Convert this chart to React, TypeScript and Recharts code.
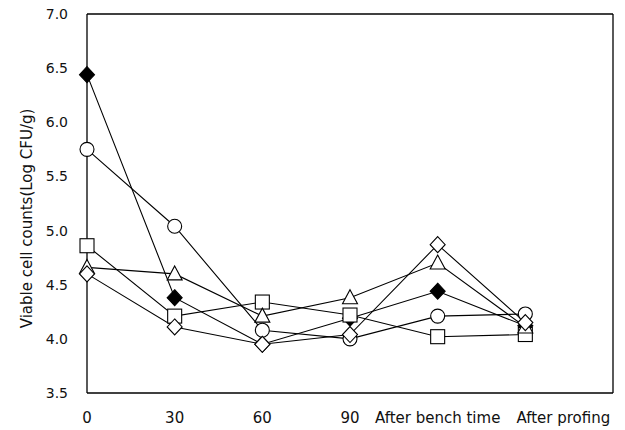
import React from "react";
import { LineChart, Line, XAxis, YAxis, ReferenceLine } from "recharts";

const categories = ["0", "30", "60", "90", "After bench time", "After profing"];
const filledDiamond = [6.44, 4.38, 3.95, 4.19, 4.44, 4.12];
const circle = [5.75, 5.04, 4.08, 4.0, 4.21, 4.23];
const square = [4.86, 4.21, 4.34, 4.22, 4.02, 4.04];
const triangle = [4.66, 4.6, 4.21, 4.38, 4.7, 4.11];
const diamond = [4.6, 4.11, 3.95, 4.04, 4.87, 4.15];
const yTicks = [3.5, 4.0, 4.5, 5.0, 5.5, 6.0, 6.5, 7.0];

const data = categories.map((label, i) => ({
  x: i,
  label,
  fd: filledDiamond[i],
  ci: circle[i],
  sq: square[i],
  tr: triangle[i],
  di: diamond[i],
}));

const FONT = "'DejaVu Sans', 'Liberation Sans', Arial, sans-serif";

type Kind = "fd" | "ci" | "sq" | "tr" | "di";

const marker = (kind: Kind) => (p: any) => {
  const { cx, cy, index } = p;
  if (cx == null || cy == null) return <g key={index} />;
  const k = `${kind}-${index}`;
  if (kind === "ci")
    return <circle key={k} cx={cx} cy={cy} r={7} fill="#fff" stroke="#000" strokeWidth={1.1} />;
  if (kind === "sq")
    return <rect key={k} x={cx - 7} y={cy - 7} width={14} height={14} fill="#fff" stroke="#000" strokeWidth={1.1} />;
  if (kind === "tr")
    return (
      <path key={k} d={`M${cx},${cy - 8} L${cx + 7.5},${cy + 6} L${cx - 7.5},${cy + 6} Z`} fill="#fff" stroke="#000" strokeWidth={1.1} />
    );
  const filled = kind === "fd";
  return (
    <path
      key={k}
      d={`M${cx},${cy - 8} L${cx + 7.5},${cy} L${cx},${cy + 8} L${cx - 7.5},${cy} Z`}
      fill={filled ? "#000" : "#fff"}
      stroke="#000"
      strokeWidth={1.1}
    />
  );
};

const XTick = (p: any) => {
  const { x, y, payload, index } = p;
  const shift = index === categories.length - 1 ? 38 : 0;
  return (
    <text x={x + shift} y={y} dy="0.71em" textAnchor="middle" fontSize={15} fontFamily={FONT} fill="#111">
      {categories[payload.value] ?? ""}
    </text>
  );
};

const YLabel = (p: any) => {
  const vb = p.viewBox || { x: 0, y: 14, width: 87, height: 379 };
  const x = vb.x + 27;
  const y = vb.y + vb.height / 2 + 15;
  return (
    <text x={x} y={y} transform={`rotate(-90, ${x}, ${y})`} textAnchor="middle" dominantBaseline="central" fontSize={15} fontFamily={FONT} fill="#111">
      Viable cell counts(Log CFU/g)
    </text>
  );
};

const series: { key: Kind }[] = [{ key: "fd" }, { key: "ci" }, { key: "sq" }, { key: "tr" }, { key: "di" }];

export default function App() {
  return (
    <div style={{ position: "absolute", left: 0, top: 0, width: 625, height: 430, background: "#fff" }}>
      <LineChart width={625} height={430} data={data} margin={{ top: 14, right: 12, left: 0, bottom: 0 }}>
        <XAxis
          dataKey="x"
          type="number"
          domain={[0, 6]}
          ticks={[0, 1, 2, 3, 4, 5]}
          height={37}
          tickLine={false}
          tickSize={0}
          tickMargin={19}
          axisLine={{ stroke: "#000", strokeWidth: 1.3 }}
          tick={<XTick />}
          interval={0}
        />
        <YAxis
          type="number"
          domain={[3.5, 7]}
          ticks={yTicks}
          width={87}
          tickLine={false}
          tickSize={0}
          tickMargin={19}
          axisLine={{ stroke: "#000", strokeWidth: 1.3 }}
          tickFormatter={(v: number) => v.toFixed(1)}
          tick={{ fontSize: 14, fontFamily: FONT, fill: "#111" }}
          label={<YLabel />}
          interval={0}
        />
        <ReferenceLine y={7} stroke="#000" strokeWidth={1.3} />
        <ReferenceLine x={6} stroke="#000" strokeWidth={1.3} />
        {series.map((s) => (
          <Line
            key={s.key}
            dataKey={s.key}
            stroke="#000"
            strokeWidth={1.1}
            type="linear"
            dot={marker(s.key)}
            activeDot={false}
            isAnimationActive={false}
          />
        ))}
      </LineChart>
    </div>
  );
}
